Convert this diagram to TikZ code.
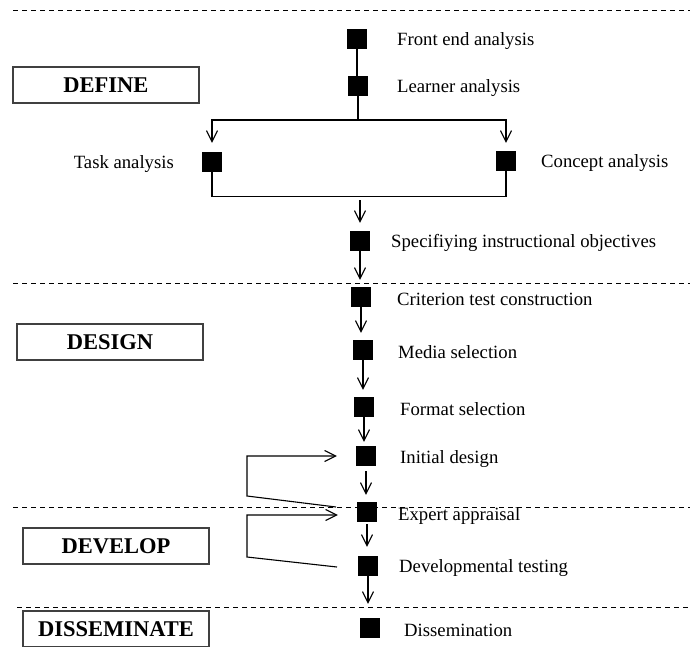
\documentclass[tikz,border=0pt]{standalone}
\usepackage{fontspec}
\setmainfont{Liberation Serif}
\usetikzlibrary{arrows.meta}
\begin{document}
\begin{tikzpicture}[x=1pt,y=-1pt,
  blk/.style={fill=black, draw=none, minimum size=20pt, inner sep=0pt},
  lbl/.style={font=\fontsize{18.7}{21}\selectfont, anchor=west, inner sep=0pt, yshift=-2pt},
  phase/.style={draw=black!75, line width=1.3pt, font=\bfseries\fontsize{22.5}{25}\selectfont, minimum width=186pt, minimum height=36pt, inner sep=0pt},
  conn/.style={line width=1.1pt},
  flow/.style={line width=1.1pt, -{Straight Barb[length=11pt,width=11pt,line width=1.1pt]}},
  sep/.style={line width=0.9pt, dash pattern=on 5pt off 4pt}]
\useasboundingbox (0,0) rectangle (693,646);

% separators
\draw[sep] (13,10) -- (690,10);
\draw[sep] (13,283) -- (690,283);
\draw[sep] (13,507) -- (690,507);
\draw[sep] (17,607) -- (690,607);

% phase boxes
\node[phase] (define) at (106,85) {DEFINE};
\node[phase] (design) at (110,342) {DESIGN};
\node[phase] (develop) at (116,546) {DEVELOP};
\node[phase] (dissem) at (116,629) {DISSEMINATE};

% step squares
\node[blk] (fe) at (357,39) {};
\node[blk] (la) at (358,86) {};
\node[blk] (ta) at (212,162) {};
\node[blk] (ca) at (506,161) {};
\node[blk] (so) at (360,241) {};
\node[blk] (ct) at (361,297) {};
\node[blk] (ms) at (363,350) {};
\node[blk] (fs) at (364,407) {};
\node[blk] (id) at (366,456) {};
\node[blk] (ea) at (367,512) {};
\node[blk] (dt) at (368,566) {};
\node[blk] (di) at (370,628) {};

% labels
\node[lbl] (tfe) at (397,39) {Front end analysis};
\node[lbl] (tla) at (397,86) {Learner analysis};
\node[lbl, anchor=east] (tta) at (174,162) {Task analysis};
\node[lbl] (tca) at (541,161) {Concept analysis};
\node[lbl] (tso) at (391,241) {Specifiying instructional objectives};
\node[lbl] (tct) at (397,297) {Criterion test construction};
\node[lbl] (tms) at (398,350) {Media selection};
\node[lbl] (tfs) at (400,407) {Format selection};
\node[lbl] (tid) at (400,457) {Initial design};
\node[lbl] (tea) at (398,514) {Expert appraisal};
\node[lbl] (tdt) at (399,566) {Developmental testing};
\node[lbl] (tdi) at (404,628) {Dissemination};

% connectors
\coordinate (split) at (358,120);
\coordinate (merge) at (360,196);
\draw[conn] (fe.south) -- (fe.south |- la.north);
\draw[conn] (la.south) -- (split);
\draw[flow, shorten >=9pt] (split) -| (ta.north);
\draw[flow, shorten >=8pt] (split) -| (ca.north);
\draw[conn] (ta.south) -- ++(0,24) -| (ca.south);
\draw[flow, shorten <=4pt, shorten >=8pt] (merge) -- (so.north);
\draw[flow, shorten >=7pt] (so.south) -- (so.south |- ct.north);
\draw[flow, shorten >=7pt] (ct.south) -- (ct.south |- ms.north);
\draw[flow, shorten >=7pt] (ms.south) -- (ms.south |- fs.north);
\draw[flow, shorten >=4pt] (fs.south) -- (fs.south |- id.north);
\draw[flow, shorten <=5pt, shorten >=7pt] (id.south) -- (id.south |- ea.north);
\draw[flow, shorten <=2pt, shorten >=9pt] (ea.south) -- (ea.south |- dt.north);
\draw[flow, shorten >=14pt] (dt.south) -- (dt.south |- di.north);

% feedback loops
\coordinate (l1s) at (336,507);
\coordinate (l2s) at (337,567);
\draw[flow, shorten >=19pt] (l1s) -- (247,496) |- (id.west);
\draw[flow, shorten >=19pt] (l2s) -- (247,557) |- ([yshift=-3pt]ea.west);
\end{tikzpicture}
\end{document}
